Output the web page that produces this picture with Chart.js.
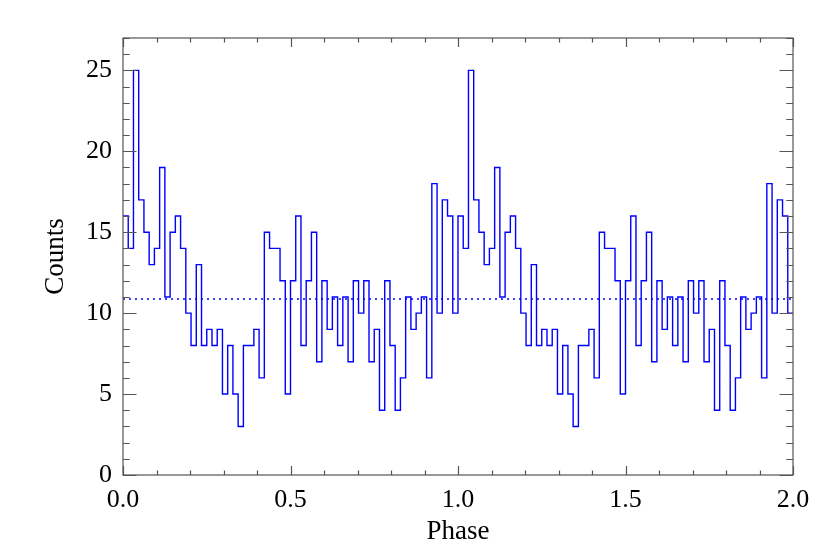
<!DOCTYPE html>
<html>
<head>
<meta charset="utf-8">
<title>Pulse profile</title>
<script src="https://cdn.jsdelivr.net/npm/chart.js@4.4.1/dist/chart.umd.min.js"></script>
<style>
  html, body { margin: 0; padding: 0; background: #fff; }
  #wrap { width: 830px; height: 553px; }
</style>
</head>
<body>
<div id="wrap"><canvas id="profile" width="830" height="553"></canvas></div>
<script>
// counts per phase bin, two cycles (64 bins each)
const counts = [
  16, 14, 25, 17, 15, 13, 14, 19, 11, 15, 16, 14, 10, 8, 13, 8,
  9, 8, 9, 5, 8, 5, 3, 8, 8, 9, 6, 15, 14, 14, 12, 5,
  12, 16, 8, 12, 15, 7, 12, 9, 11, 8, 11, 7, 12, 10, 12, 7,
  9, 4, 12, 8, 4, 6, 11, 9, 10, 11, 6, 18, 10, 17, 16, 10,
  16, 14, 25, 17, 15, 13, 14, 19, 11, 15, 16, 14, 10, 8, 13, 8,
  9, 8, 9, 5, 8, 5, 3, 8, 8, 9, 6, 15, 14, 14, 12, 5,
  12, 16, 8, 12, 15, 7, 12, 9, 11, 8, 11, 7, 12, 10, 12, 7,
  9, 4, 12, 8, 4, 6, 11, 9, 10, 11, 6, 18, 10, 17, 16, 10
];
const binsPerCycle = 64;
const meanCounts = 10.87;
const xTickValues = [0, 0.5, 1.0, 1.5, 2.0];
const yTickValues = [0, 5, 10, 15, 20, 25];

Chart.defaults.font.family = '"Liberation Serif", "Times New Roman", serif';
Chart.defaults.color = '#000';

// histogram outline: each bin contributes its left and right edge
const steps = [];
counts.forEach((c, k) => {
  steps.push({ x: k / binsPerCycle, y: c });
  steps.push({ x: (k + 1) / binsPerCycle, y: c });
});

// IDL-style box with inward ticks on all four sides
const frame = {
  id: 'frame',
  afterDraw(chart) {
    const { ctx, chartArea: a, scales: { x, y } } = chart;
    ctx.save();
    ctx.strokeStyle = '#555';
    ctx.lineWidth = 1.2;
    ctx.strokeRect(a.left, a.top, a.right - a.left, a.bottom - a.top);
    ctx.beginPath();
    for (let i = 0; i <= 20; i++) {
      const px = Math.round(x.getPixelForValue(i / 10)) + 0.5;
      const len = i % 5 === 0 ? 9 : 4.5;
      ctx.moveTo(px, a.bottom); ctx.lineTo(px, a.bottom - len);
      ctx.moveTo(px, a.top); ctx.lineTo(px, a.top + len);
    }
    for (let i = 0; i <= 27; i++) {
      const py = Math.round(y.getPixelForValue(i)) + 0.5;
      const len = i % 5 === 0 ? 13.5 : 6.7;
      ctx.moveTo(a.left, py); ctx.lineTo(a.left + len, py);
      ctx.moveTo(a.right, py); ctx.lineTo(a.right - len, py);
    }
    ctx.stroke();
    ctx.restore();
  }
};

new Chart(document.getElementById('profile').getContext('2d'), {
  type: 'line',
  data: {
    datasets: [{
      label: 'Counts',
      data: steps,
      borderColor: '#0000ff',
      borderWidth: 1.4,
      pointRadius: 0,
      tension: 0,
      fill: false
    }, {
      label: 'Mean',
      data: [{ x: 0, y: meanCounts }, { x: 2, y: meanCounts }],
      borderColor: '#0000ff',
      borderWidth: 1.6,
      borderDash: [2, 4],
      pointRadius: 0,
      fill: false
    }]
  },
  options: {
    responsive: false,
    animation: false,
    layout: { padding: { left: 0, top: 38, right: 37, bottom: 0 } },
    plugins: { legend: { display: false }, tooltip: { enabled: false } },
    scales: {
      x: {
        type: 'linear',
        min: 0,
        max: 2,
        afterBuildTicks: s => { s.ticks = xTickValues.map(v => ({ value: v })); },
        afterFit: s => { s.height = 78; },
        ticks: {
          callback: v => v.toFixed(1),
          font: { size: 26 },
          padding: 10,
          maxRotation: 0,
          autoSkip: false
        },
        grid: { display: false, drawTicks: false },
        border: { display: false },
        title: { display: true, text: 'Phase', font: { size: 27 }, padding: { top: 0, bottom: 5 } }
      },
      y: {
        min: 0,
        max: 27,
        afterBuildTicks: s => { s.ticks = yTickValues.map(v => ({ value: v })); },
        afterFit: s => { s.width = 123; },
        ticks: { font: { size: 26 }, padding: 11 },
        grid: { display: false, drawTicks: false },
        border: { display: false },
        title: { display: true, text: 'Counts', font: { size: 27 }, padding: { top: 40, bottom: 0 } }
      }
    }
  },
  plugins: [frame]
});
</script>
</body>
</html>
